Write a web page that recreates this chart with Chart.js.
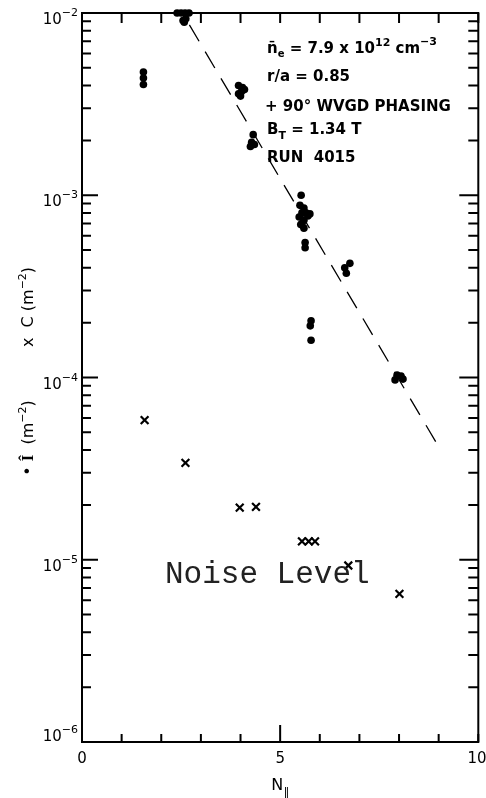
<!DOCTYPE html>
<html>
<head>
<meta charset="utf-8">
<script src="https://cdn.jsdelivr.net/npm/chart.js@4.4.0/dist/chart.umd.min.js"></script>
<style>
  html, body { margin: 0; padding: 0; background: #fff; }
  canvas { display: block; }
</style>
</head>
<body>
<canvas id="chart" width="486" height="798"></canvas>
<script>
// measured I-hat (filled dots), N_par vs value
const dotN = [1.55, 1.55, 1.55,
  2.4, 2.5, 2.6, 2.7, 2.55, 2.62, 2.58,
  3.95, 4.05, 4.1, 3.95, 4.0, 4.02,
  4.32, 4.28, 4.35, 4.25,
  5.53, 5.5, 5.6, 5.55, 5.65, 5.7, 5.48, 5.6, 5.75, 5.55, 5.6, 5.52, 5.63, 5.63,
  6.76, 6.63, 6.67,
  5.78, 5.76, 5.78,
  7.95, 8.05, 7.9, 8.1];
const dotI = [4.74e-3, 4.4e-3, 4.05e-3,
  1.0e-2, 1.0e-2, 1.0e-2, 1.0e-2, 9.1e-3, 9.3e-3, 8.9e-3,
  4.0e-3, 3.9e-3, 3.8e-3, 3.6e-3, 3.5e-3, 3.7e-3,
  2.15e-3, 1.95e-3, 1.9e-3, 1.85e-3,
  1.0e-3, 8.8e-4, 8.5e-4, 8.0e-4, 8.0e-4, 7.7e-4, 7.6e-4, 7.3e-4, 7.9e-4, 7.0e-4, 6.6e-4, 6.9e-4, 5.5e-4, 5.15e-4,
  4.23e-4, 4.0e-4, 3.73e-4,
  2.05e-4, 1.92e-4, 1.6e-4,
  1.03e-4, 1.02e-4, 9.7e-5, 9.8e-5];

// C values (crosses)
const crossN = [1.58, 2.61, 3.98, 4.39, 5.55, 5.72, 5.88, 6.72, 8.01];
const crossC = [5.84e-5, 3.4e-5, 1.93e-5, 1.95e-5, 1.26e-5, 1.26e-5, 1.26e-5, 9.3e-6, 6.5e-6];

// dashed fit line end points
const fitN = [2.71, 9.05];
const fitI = [8.6e-3, 4.0e-5];

// axis ticks
const xTicks = [0, 1, 2, 3, 4, 5, 6, 7, 8, 9, 10];
const xLabels = [0, 5, 10];
const yDecades = [-6, -5, -4, -3, -2];

const FONT = '"DejaVu Sans", sans-serif';

function rich(ctx, parts, x, y, align) {
  let w = 0;
  const f = p => (p[3] || '') + ' ' + p[1] + 'px ' + (p[4] || FONT);
  parts.forEach(p => { ctx.font = f(p); w += ctx.measureText(p[0]).width; });
  let cx = align === 'right' ? x - w : align === 'center' ? x - w / 2 : x;
  parts.forEach(p => {
    ctx.font = f(p);
    ctx.fillText(p[0], cx, y + (p[2] || 0));
    cx += ctx.measureText(p[0]).width;
  });
}

const framePlugin = {
  id: 'frame',
  afterDatasetsDraw(chart) {
    const { ctx, chartArea: a, scales: { x, y } } = chart;
    ctx.save();
    ctx.strokeStyle = '#000';
    ctx.fillStyle = '#000';
    ctx.lineWidth = 2;
    ctx.strokeRect(a.left, a.top, a.right - a.left, a.bottom - a.top);

    ctx.beginPath();
    xTicks.forEach(v => {
      const px = x.getPixelForValue(v);
      ctx.moveTo(px, a.top); ctx.lineTo(px, a.top + 10);
      ctx.moveTo(px, a.bottom); ctx.lineTo(px, a.bottom - (v === 5 ? 17 : 8));
    });
    yDecades.forEach(d => {
      for (let m = 1; m <= 9; m++) {
        if (d === -2 && m > 1) break;
        const py = y.getPixelForValue(m * Math.pow(10, d));
        const major = m === 1;
        ctx.moveTo(a.left, py); ctx.lineTo(a.left + (major ? 16 : 9), py);
        ctx.moveTo(a.right, py); ctx.lineTo(a.right - (major ? 19 : 10), py);
      }
    });
    ctx.stroke();

    // tick labels
    ctx.textBaseline = 'alphabetic';
    yDecades.forEach(d => {
      const py = y.getPixelForValue(Math.pow(10, d));
      const base = d === -6 ? py - 1 : py + 11;
      rich(ctx, [['10', 15], ['\u2212' + (-d), 11, -8]], 78, base, 'right');
    });
    xLabels.forEach(v => {
      const px = Math.min(x.getPixelForValue(v), 477);
      rich(ctx, [[String(v), 15]], px, 763, 'center');
    });
    rich(ctx, [['N', 16], ['\u2225', 12, 6]], x.getPixelForValue(5), 790, 'center');

    // rotated y titles
    ctx.save();
    ctx.translate(33, 307);
    ctx.rotate(-Math.PI / 2);
    rich(ctx, [['x  C (m', 16], ['\u2212', 11, -7], ['2', 11, -7], [')', 16]], 0, 0, 'center');
    ctx.restore();
    ctx.save();
    ctx.translate(33, 438);
    ctx.rotate(-Math.PI / 2);
    rich(ctx, [['\u2022 ', 16], ['\u00CE', 17, 0, 'bold', '"Liberation Serif", serif'], ['  (m', 16], ['\u2212', 11, -7], ['2', 11, -7], [')', 16]], 0, 0, 'center');
    ctx.restore();

    // parameters
    const L = 267;
    rich(ctx, [['n\u0304', 15, 0, 'bold'], ['e', 10, 4, 'bold'], [' = 7.9 x 10', 15, 0, 'bold'], ['12', 11, -7, 'bold'], [' cm', 15, 0, 'bold'], ['\u22123', 11, -8, 'bold']], L, 53);
    rich(ctx, [['r/a = 0.85', 15, 0, 'bold']], L, 81);
    rich(ctx, [['+ 90\u00B0 WVGD PHASING', 15, 0, 'bold']], L - 2, 111);
    rich(ctx, [['B', 15, 0, 'bold'], ['T', 11, 5, 'bold'], [' = 1.34 T', 15, 0, 'bold']], L, 134);
    rich(ctx, [['RUN  4015', 15, 0, 'bold']], L, 162);

    ctx.fillStyle = '#222';
    ctx.font = '31px "Liberation Mono", monospace';
    ctx.fillText('Noise Level', 165, 583);
    ctx.restore();
  }
};

new Chart(document.getElementById('chart'), {
  type: 'scatter',
  data: {
    datasets: [{
      label: 'I',
      data: dotN.map((n, i) => ({ x: n, y: dotI[i] })),
      pointStyle: 'circle',
      pointRadius: 3.8,
      backgroundColor: '#000',
      borderColor: '#000',
      borderWidth: 0,
      clip: false
    }, {
      label: 'C',
      data: crossN.map((n, i) => ({ x: n, y: crossC[i] })),
      pointStyle: 'crossRot',
      pointRadius: 5.5,
      borderColor: '#000',
      borderWidth: 2.2
    }, {
      type: 'line',
      label: 'fit',
      data: fitN.map((n, i) => ({ x: n, y: fitI[i] })),
      borderColor: '#000',
      borderWidth: 1.3,
      borderDash: [19, 12],
      pointRadius: 0,
      fill: false
    }]
  },
  options: {
    responsive: false,
    devicePixelRatio: 1,
    animation: false,
    layout: { padding: { left: 82, right: 5, top: 13, bottom: 56 } },
    plugins: { legend: { display: false }, tooltip: { enabled: false } },
    scales: {
      x: { type: 'linear', min: 0, max: 10, display: false },
      y: { type: 'logarithmic', min: 1e-6, max: 1e-2, display: false }
    }
  },
  plugins: [framePlugin]
});
</script>
</body>
</html>
